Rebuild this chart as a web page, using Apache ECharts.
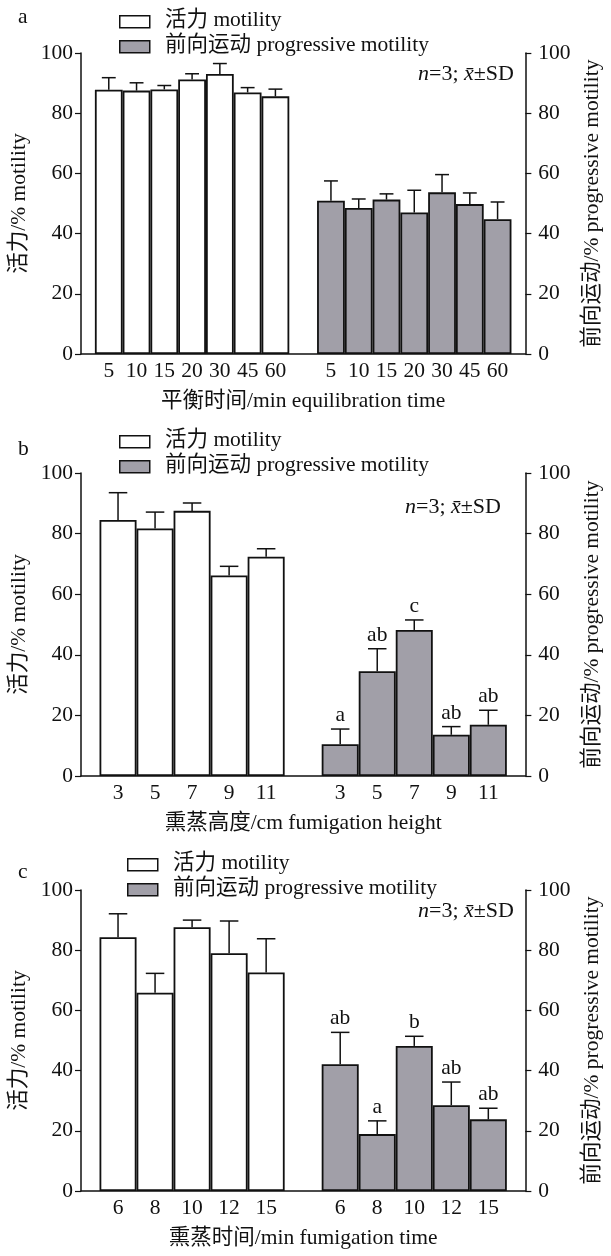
<!DOCTYPE html>
<html><head><meta charset="utf-8">
<script src="https://cdn.jsdelivr.net/npm/echarts@6/dist/echarts.min.js"></script>
<style>html,body{margin:0;padding:0;background:#fff}#c{width:611px;height:1256px}</style>
</head><body><div id="c"></div><script>
// ---- data ----
const catsA = ['5','10','15','20','30','45','60'];
const motA = [87.8, 87.5, 87.9, 91.2, 93.0, 86.9, 85.6];
const motSdA = [4.0, 2.6, 1.3, 1.9, 3.5, 1.6, 2.4];
const progA = [50.9, 48.5, 51.3, 47.0, 53.7, 49.8, 44.8];
const progSdA = [6.6, 3.0, 1.9, 7.4, 5.9, 3.7, 5.7];

const catsB = ['3','5','7','9','11'];
const motB = [84.5, 81.7, 87.5, 66.2, 72.4];
const motSdB = [9.0, 5.4, 2.6, 3.0, 2.6];
const progB = [10.5, 34.6, 48.2, 13.6, 16.9];
const progSdB = [5.0, 7.4, 3.3, 2.7, 4.8];
const lettersB = ['a','ab','c','ab','ab'];

const catsC = ['6','8','10','12','15'];
const motC = [84.3, 65.9, 87.6, 79.0, 72.6];
const motSdC = [7.8, 6.4, 2.4, 10.7, 11.2];
const progC = [42.1, 18.9, 48.2, 28.5, 23.8];
const progSdC = [10.6, 4.4, 3.2, 7.7, 3.7];
const lettersC = ['ab','a','b','ab','ab'];

const yTicks = [0, 20, 40, 60, 80, 100];
const xTitles = ['平衡时间/min equilibration time', '熏蒸高度/cm fumigation height', '熏蒸时间/min fumigation time'];
const yLeftName = '活力/% motility';
const yRightName = '前向运动/% progressive motility';
const legendNames = ['活力 motility', '前向运动 progressive motility'];
const panelLetters = ['a', 'b', 'c'];

// ---- layout ----
const FONT = '"Liberation Serif", "Times New Roman", "Noto Sans CJK SC", serif';
const FS = 21.5;
const INK = '#111';
const GREY = '#a19fa8';
const panels = [
  {cats: catsA, mot: motA, motSd: motSdA, prog: progA, progSd: progSdA, letters: null,
   top: 53, height: 301, legendX: 119, legendY: 15, noteX: 418, noteY: 75, letterY: 18},
  {cats: catsB, mot: motB, motSd: motSdB, prog: progB, progSd: progSdB, letters: lettersB,
   top: 473, height: 303, legendX: 119, legendY: 435, noteX: 405, noteY: 508, letterY: 450},
  {cats: catsC, mot: motC, motSd: motSdC, prog: progC, progSd: progSdC, letters: lettersC,
   top: 890, height: 301, legendX: 127, legendY: 858, noteX: 418, noteY: 912, letterY: 873}
];

const grid = [], xAxis = [], yAxis = [], series = [], graphic = [];

function errRender(letters) {
  return function (params, api) {
    const x = api.value(0), m = api.value(1), sd = api.value(2);
    const p0 = api.coord([x, m]);
    const p1 = api.coord([x, m + sd]);
    const bw = api.size([1, 0])[0];
    const hw = bw * 0.25;
    const st = {stroke: INK, lineWidth: 1.5};
    const children = [
      {type: 'line', shape: {x1: p0[0], y1: p0[1], x2: p1[0], y2: p1[1]}, style: st},
      {type: 'line', shape: {x1: p1[0] - hw, y1: p1[1], x2: p1[0] + hw, y2: p1[1]}, style: st}
    ];
    if (letters) {
      children.push({type: 'text', style: {text: letters[params.dataIndex % letters.length],
        x: p1[0], y: p1[1] - 3, align: 'center', verticalAlign: 'bottom',
        font: FS + 'px ' + FONT, fill: INK}});
    }
    return {type: 'group', children: children};
  };
}

panels.forEach(function (p, k) {
  const n = p.cats.length;
  const xData = [''].concat(p.cats, [''], p.cats, ['']);
  grid.push({left: 81, right: 78, top: p.top, height: p.height});
  xAxis.push({
    type: 'category', gridIndex: k, data: xData, boundaryGap: false,
    axisLine: {lineStyle: {color: INK, width: 1.5}},
    axisTick: {inside: true, length: 5, lineStyle: {color: INK, width: 1.2},
      interval: function (i) { return i !== 0 && i !== n + 1 && i !== 2 * n + 2; }},
    axisLabel: {interval: 0, margin: 7, fontSize: FS, color: INK, fontFamily: FONT},
    name: xTitles[k], nameLocation: 'middle', nameGap: 37,
    nameTextStyle: {fontSize: FS, color: INK, fontFamily: FONT}
  });
  const yBase = {
    type: 'value', gridIndex: k, min: 0, max: 100, interval: 20,
    axisLine: {show: true, lineStyle: {color: INK, width: 1.5}},
    axisTick: {show: true, length: 6, lineStyle: {color: INK, width: 1.2}},
    splitLine: {show: false},
    nameLocation: 'middle', nameRotate: 90,
    nameTextStyle: {fontSize: FS, color: INK, fontFamily: FONT}
  };
  const fmt = function (v) { return yTicks.indexOf(v) >= 0 ? String(v) : ''; };
  yAxis.push(Object.assign({}, yBase, {position: 'left', name: yLeftName, nameGap: 50,
    axisLabel: {margin: 8, fontSize: FS, color: INK, fontFamily: FONT, formatter: fmt}}));
  yAxis.push(Object.assign({}, yBase, {position: 'right', name: yRightName, nameGap: 54,
    axisLabel: {margin: 13, fontSize: FS, color: INK, fontFamily: FONT, formatter: fmt}}));

  const motData = xData.map(function () { return '-'; });
  const progData = xData.map(function () { return '-'; });
  const motErr = [], progErr = [];
  for (let i = 0; i < n; i++) {
    motData[i + 1] = p.mot[i];
    progData[i + n + 2] = p.prog[i];
    motErr.push([i + 1, p.mot[i], p.motSd[i]]);
    progErr.push([i + n + 2, p.prog[i], p.progSd[i]]);
  }
  series.push({type: 'bar', name: legendNames[0], xAxisIndex: k, yAxisIndex: 2 * k,
    data: motData, barCategoryGap: '0%', barGap: '-100%',
    itemStyle: {color: '#fff', borderColor: INK, borderWidth: 1.8}, silent: true});
  series.push({type: 'bar', name: legendNames[1], xAxisIndex: k, yAxisIndex: 2 * k + 1,
    data: progData, barCategoryGap: '0%', barGap: '-100%',
    itemStyle: {color: GREY, borderColor: INK, borderWidth: 1.8}, silent: true});
  series.push({type: 'custom', xAxisIndex: k, yAxisIndex: 2 * k, data: motErr, z: 5,
    renderItem: errRender(null), silent: true});
  series.push({type: 'custom', xAxisIndex: k, yAxisIndex: 2 * k + 1, data: progErr, z: 5,
    renderItem: errRender(p.letters), silent: true});

  // legend
  graphic.push({type: 'rect', left: p.legendX, top: p.legendY, shape: {width: 30, height: 12},
    style: {fill: '#fff', stroke: INK, lineWidth: 1.5}});
  graphic.push({type: 'rect', left: p.legendX, top: p.legendY + 25, shape: {width: 30, height: 12},
    style: {fill: GREY, stroke: INK, lineWidth: 1.5}});
  graphic.push({type: 'text', left: p.legendX + 46, top: p.legendY - 5,
    style: {text: legendNames[0], font: FS + 'px ' + FONT, fill: INK}});
  graphic.push({type: 'text', left: p.legendX + 46, top: p.legendY + 20,
    style: {text: legendNames[1], font: FS + 'px ' + FONT, fill: INK}});
  // panel letter
  graphic.push({type: 'text', left: 18, top: p.letterY - 11,
    style: {text: panelLetters[k], font: FS + 'px ' + FONT, fill: INK}});
  // note
  graphic.push({type: 'text', left: p.noteX, top: p.noteY - 12,
    style: {text: '{i|n}=3; {i|x\u0304}±SD', font: '22px ' + FONT, fill: INK,
      rich: {i: {fontStyle: 'italic', fontSize: 22, fontFamily: FONT, fill: INK}}}});
});

const chart = echarts.init(document.getElementById('c'), null, {renderer: 'canvas'});
chart.setOption({backgroundColor: '#fff', animation: false, grid: grid, xAxis: xAxis, yAxis: yAxis,
  series: series, graphic: graphic});
</script></body></html>
